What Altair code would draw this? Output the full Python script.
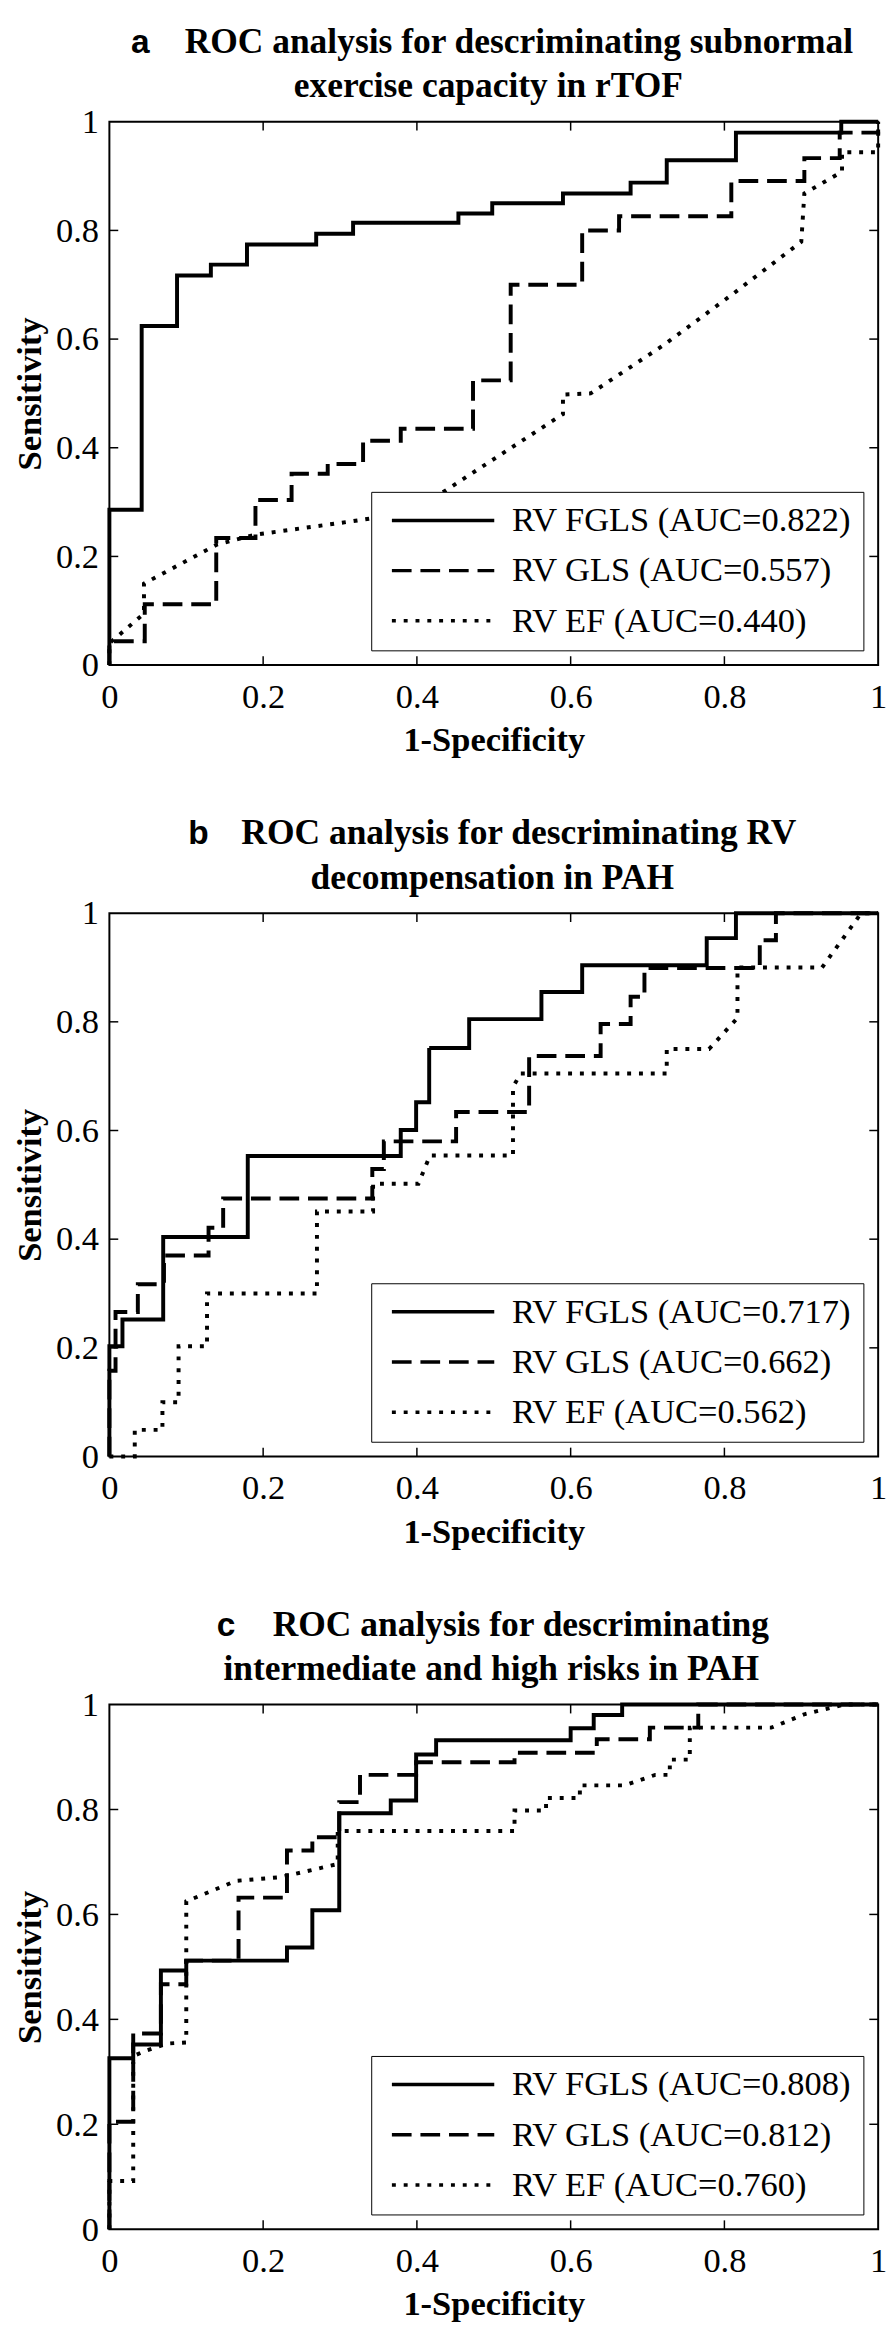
import altair as alt
import pandas as pd

FONT = "Liberation Serif"
LETTER_FONT = "Liberation Sans"
TICK_VALUES = [0, 0.2, 0.4, 0.6, 0.8, 1]
INNER_TICKS = [0.2, 0.4, 0.6, 0.8]
DASHES = [[1, 0], [20, 9], [4, 8]]

# ---------------- Panel a ----------------
A_LETTER = "a"
A_TITLE = ["ROC analysis for descriminating subnormal", "exercise capacity in rTOF"]
A_LABELS = ["RV FGLS (AUC=0.822)", "RV GLS (AUC=0.557)", "RV EF (AUC=0.440)"]
A_FGLS_X = [0, 0, 0.042, 0.042, 0.088, 0.088, 0.132, 0.132, 0.179, 0.179, 0.269, 0.269, 0.317, 0.317,
            0.454, 0.454, 0.498, 0.498, 0.590, 0.590, 0.678, 0.678, 0.725, 0.725, 0.815, 0.815, 0.952, 0.952, 1.0]
A_FGLS_Y = [0, 0.286, 0.286, 0.624, 0.624, 0.717, 0.717, 0.737, 0.737, 0.774, 0.774, 0.794, 0.794, 0.814,
            0.814, 0.831, 0.831, 0.850, 0.850, 0.868, 0.868, 0.888, 0.888, 0.929, 0.929, 0.980, 0.980, 1.0, 1.0]
A_GLS_X = [0, 0, 0.046, 0.046, 0.139, 0.139, 0.190, 0.190, 0.237, 0.237, 0.284, 0.284, 0.330, 0.330, 0.379, 0.379,
           0.473, 0.473, 0.522, 0.522, 0.615, 0.615, 0.663, 0.663, 0.809, 0.809, 0.904, 0.904, 0.950, 0.950, 1.0, 1.0]
A_GLS_Y = [0, 0.044, 0.044, 0.112, 0.112, 0.234, 0.234, 0.304, 0.304, 0.352, 0.352, 0.370, 0.370, 0.413, 0.413, 0.435,
           0.435, 0.524, 0.524, 0.700, 0.700, 0.800, 0.800, 0.826, 0.826, 0.891, 0.891, 0.933, 0.933, 0.980, 0.980, 1.0]
A_EF_X = [0, 0, 0.045, 0.045, 0.140, 0.190, 0.312, 0.350, 0.425, 0.590, 0.590, 0.626, 0.720, 0.810, 0.900,
          0.904, 0.953, 0.953, 1.0, 1.0]
A_EF_Y = [0, 0.040, 0.095, 0.150, 0.222, 0.240, 0.264, 0.272, 0.310, 0.462, 0.498, 0.500, 0.588, 0.682, 0.779,
          0.868, 0.908, 0.944, 0.944, 1.0]

# ---------------- Panel b ----------------
B_LETTER = "b"
B_TITLE = ["ROC analysis for descriminating RV", "decompensation in PAH"]
B_LABELS = ["RV FGLS (AUC=0.717)", "RV GLS (AUC=0.662)", "RV EF (AUC=0.562)"]
B_FGLS_X = [0, 0, 0.017, 0.017, 0.070, 0.070, 0.180, 0.180, 0.379, 0.379, 0.399, 0.399, 0.416, 0.416,
            0.468, 0.468, 0.562, 0.562, 0.615, 0.615, 0.777, 0.777, 0.815, 0.815, 1.0]
B_FGLS_Y = [0, 0.203, 0.203, 0.252, 0.252, 0.404, 0.404, 0.553, 0.553, 0.601, 0.601, 0.652, 0.652, 0.752,
            0.752, 0.805, 0.805, 0.855, 0.855, 0.904, 0.904, 0.954, 0.954, 1.0, 1.0]
B_GLS_X = [0, 0, 0.008, 0.008, 0.037, 0.037, 0.071, 0.071, 0.129, 0.129, 0.148, 0.148, 0.342, 0.342, 0.357, 0.357,
           0.451, 0.451, 0.546, 0.546, 0.639, 0.639, 0.678, 0.678, 0.696, 0.696, 0.846, 0.846, 0.867, 0.867, 1.0]
B_GLS_Y = [0, 0.158, 0.158, 0.266, 0.266, 0.317, 0.317, 0.370, 0.370, 0.421, 0.421, 0.475, 0.475, 0.529, 0.529,
           0.580, 0.580, 0.634, 0.634, 0.737, 0.737, 0.796, 0.796, 0.846, 0.846, 0.899, 0.899, 0.950, 0.950, 1.0, 1.0]
B_EF_X = [0, 0.033, 0.033, 0.069, 0.069, 0.090, 0.090, 0.127, 0.127, 0.270, 0.270, 0.343, 0.343, 0.402, 0.417,
          0.525, 0.525, 0.535, 0.725, 0.725, 0.780, 0.817, 0.817, 0.927, 0.978, 1.0]
B_EF_Y = [0, 0, 0.049, 0.049, 0.100, 0.100, 0.203, 0.203, 0.300, 0.300, 0.451, 0.451, 0.502, 0.502, 0.554,
          0.554, 0.680, 0.705, 0.705, 0.750, 0.750, 0.807, 0.900, 0.900, 1.0, 1.0]

# ---------------- Panel c ----------------
C_LETTER = "c"
C_TITLE = ["ROC analysis for descriminating", "intermediate and high risks in PAH"]
C_LABELS = ["RV FGLS (AUC=0.808)", "RV GLS (AUC=0.812)", "RV EF (AUC=0.760)"]
C_FGLS_X = [0, 0, 0.031, 0.031, 0.067, 0.067, 0.100, 0.100, 0.231, 0.231, 0.264, 0.264, 0.299, 0.299,
            0.366, 0.366, 0.399, 0.399, 0.425, 0.425, 0.600, 0.600, 0.630, 0.630, 0.667, 0.667, 1.0]
C_FGLS_Y = [0, 0.326, 0.326, 0.352, 0.352, 0.493, 0.493, 0.512, 0.512, 0.537, 0.537, 0.608, 0.608, 0.793,
            0.793, 0.817, 0.817, 0.905, 0.905, 0.932, 0.932, 0.955, 0.955, 0.980, 0.980, 1.0, 1.0]
C_GLS_X = [0, 0, 0.031, 0.031, 0.067, 0.067, 0.100, 0.100, 0.168, 0.168, 0.231, 0.231, 0.264, 0.264, 0.299,
           0.299, 0.326, 0.326, 0.399, 0.399, 0.527, 0.527, 0.634, 0.634, 0.703, 0.703, 0.766, 0.766, 1.0]
C_GLS_Y = [0, 0.205, 0.205, 0.373, 0.373, 0.467, 0.467, 0.512, 0.512, 0.632, 0.632, 0.722, 0.722, 0.747, 0.747,
           0.814, 0.814, 0.866, 0.866, 0.890, 0.890, 0.908, 0.908, 0.934, 0.934, 0.956, 0.956, 1.0, 1.0]
C_EF_X = [0, 0, 0.031, 0.031, 0.047, 0.076, 0.100, 0.100, 0.165, 0.223, 0.297, 0.297, 0.527, 0.527, 0.568,
          0.568, 0.612, 0.612, 0.670, 0.710, 0.729, 0.729, 0.755, 0.755, 0.861, 0.905, 0.956, 1.0]
C_EF_Y = [0, 0.092, 0.092, 0.330, 0.340, 0.354, 0.356, 0.625, 0.664, 0.671, 0.696, 0.759, 0.759, 0.798, 0.798,
          0.822, 0.822, 0.846, 0.846, 0.866, 0.866, 0.895, 0.895, 0.956, 0.956, 0.982, 1.0, 1.0]

PANEL_W = 781
TICK_LEN = 9


def build_df(labels, xs, ys):
    rows = []
    for lab, sx, sy in zip(labels, xs, ys):
        for i, (x, y) in enumerate(zip(sx, sy)):
            rows.append({"series": lab, "i": i, "fpr": x, "tpr": y})
    return pd.DataFrame(rows)


def text_layer(text, x, y, font, size, align):
    return alt.Chart(pd.DataFrame({"txt": [text]})).mark_text(
        font=font, fontSize=size, fontWeight="bold", color="black", align=align,
        baseline="alphabetic"
    ).encode(text="txt:N", x=alt.value(x), y=alt.value(y))


def panel(letter, letter_x, title, line1_cx, line2_cx, labels, xs, ys, h):
    df = build_df(labels, xs, ys)
    xscale = alt.Scale(domain=[0, 1], nice=False, zero=False)
    yscale = alt.Scale(domain=[0, 1], nice=False, zero=False)
    common = dict(values=TICK_VALUES, format="~g", ticks=False, domain=False, grid=False,
                  labelFlush=False, labelOverlap=False, labelFont=FONT, labelFontSize=35,
                  labelColor="black", titleFont=FONT, titleFontSize=35, titleFontWeight="bold",
                  titleColor="black")
    xaxis = alt.Axis(labelPadding=15, titlePadding=9, **common)
    yaxis = alt.Axis(labelPadding=11, titlePadding=8, **common)

    def X(f):
        return alt.X(f, scale=xscale, axis=xaxis, title="1-Specificity")

    def Y(f):
        return alt.Y(f, scale=yscale, axis=yaxis, title="Sensitivity")

    legend = alt.Legend(title=None, orient="bottom-right", offset=15, fillColor="white",
                        strokeColor="black", padding=12, cornerRadius=0, symbolType="stroke",
                        symbolSize=10816, symbolStrokeWidth=3.5, symbolStrokeColor="black",
                        symbolOffset=7, clipHeight=34, rowPadding=16, labelOffset=16,
                        labelFont=FONT, labelFontSize=35, labelColor="black", labelLimit=600)

    lines = alt.Chart(df).mark_line(color="black", strokeWidth=4, strokeCap="butt",
                                    strokeJoin="miter").encode(
        x=X("fpr:Q"),
        y=Y("tpr:Q"),
        strokeDash=alt.StrokeDash("series:N", scale=alt.Scale(domain=labels, range=DASHES),
                                  legend=legend),
        order=alt.Order("i:Q"),
    )

    tdf = pd.DataFrame({"t": INNER_TICKS})
    base = alt.Chart(tdf).mark_rule(color="black", strokeWidth=1.5)
    bottom = base.encode(x=X("t:Q"), y=alt.value(h), y2=alt.value(h - TICK_LEN))
    top = base.encode(x=X("t:Q"), y=alt.value(0), y2=alt.value(TICK_LEN))
    left = base.encode(y=Y("t:Q"), x=alt.value(0), x2=alt.value(TICK_LEN))
    right = base.encode(y=Y("t:Q"), x=alt.value(PANEL_W), x2=alt.value(PANEL_W - TICK_LEN))

    t_letter = text_layer(letter, letter_x, -70, LETTER_FONT, 34, "left")
    t_line1 = text_layer(title[0], line1_cx, -70, FONT, 36, "center")
    t_line2 = text_layer(title[1], line2_cx, -25, FONT, 36, "center")

    return alt.layer(lines, bottom, top, left, right, t_letter, t_line1, t_line2).properties(
        width=PANEL_W,
        height=h,
    )


pa = panel(A_LETTER, 22, A_TITLE, 416, 385, A_LABELS,
           [A_FGLS_X, A_GLS_X, A_EF_X], [A_FGLS_Y, A_GLS_Y, A_EF_Y], 552)
pb = panel(B_LETTER, 80, B_TITLE, 416, 389, B_LABELS,
           [B_FGLS_X, B_GLS_X, B_EF_X], [B_FGLS_Y, B_GLS_Y, B_EF_Y], 552)
pc = panel(C_LETTER, 109, C_TITLE, 418, 388, C_LABELS,
           [C_FGLS_X, C_GLS_X, C_EF_X], [C_FGLS_Y, C_GLS_Y, C_EF_Y], 533)

chart = alt.vconcat(pa, pb, pc, spacing=57).resolve_scale(
    strokeDash="independent"
).configure_view(
    stroke="black", strokeWidth=2
).properties(
    padding={"left": 4, "top": -3, "right": 0, "bottom": 0},
    background="white",
)

chart.save("out.html", embed_options={"renderer": "svg", "actions": False})
